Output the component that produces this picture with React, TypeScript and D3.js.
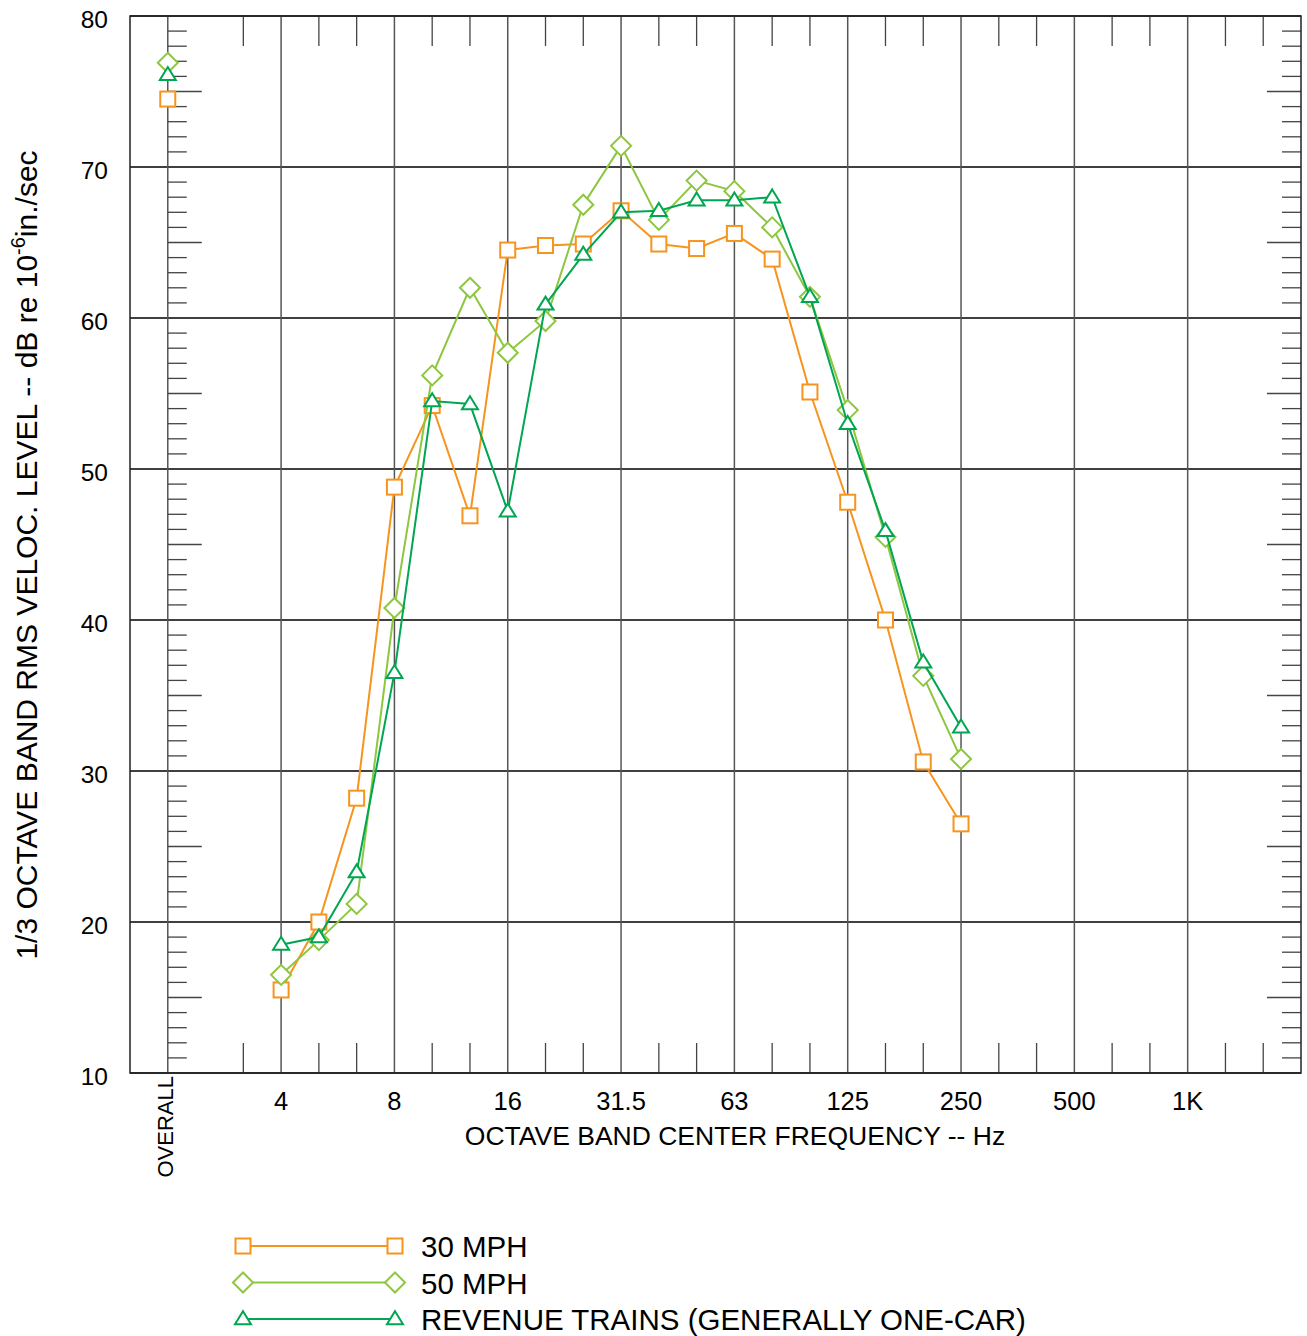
import React from "react";
import * as d3 from "d3";

const freqLabels = ["4", "8", "16", "31.5", "63", "125", "250", "500", "1K"];
const bandIndex = [3, 4, 5, 6, 7, 8, 9, 10, 11, 12, 13, 14, 15, 16, 17, 18, 19, 20, 21];
const yTicks = [10, 20, 30, 40, 50, 60, 70, 80];

const overall30 = 74.5;
const overall50 = 76.9;
const overallRev = 76.1;
const mph30 = [15.5, 20.0, 28.2, 48.8, 54.2, 46.9, 64.5, 64.8, 64.9, 67.1, 64.9, 64.6, 65.6, 63.9, 55.1, 47.8, 40.0, 30.6, 26.5];
const mph50 = [16.5, 18.8, 21.2, 40.8, 56.2, 62.0, 57.7, 59.8, 67.5, 71.4, 66.5, 69.1, 68.4, 66.0, 61.4, 53.9, 45.5, 36.3, 30.8];
const revenue = [18.5, 19.0, 23.3, 36.5, 54.5, 54.3, 47.2, 60.9, 64.2, 67.0, 67.1, 67.8, 67.8, 68.0, 61.4, 53.0, 45.9, 37.2, 32.9];

const ORANGE = "#F7941D";
const LGREEN = "#8DC63F";
const DGREEN = "#00A651";

const series = [
  { name: "30 MPH", overall: overall30, values: mph30, color: ORANGE, marker: "square" },
  { name: "50 MPH", overall: overall50, values: mph50, color: LGREEN, marker: "diamond" },
  { name: "REVENUE TRAINS (GENERALLY ONE-CAR)", overall: overallRev, values: revenue, color: DGREEN, marker: "triangle" },
];

const L = 130, R = 1301, T = 16, B = 1073;
const x = d3.scaleLinear().domain([-1, 30]).range([L, R]);
const y = d3.scaleLinear().domain([10, 80]).range([B, T]);

function Marker({ type, cx, cy, color }: { type: string; cx: number; cy: number; color: string }) {
  if (type === "square") {
    return <rect x={cx - 7.5} y={cy - 7.5} width={15} height={15} fill="white" stroke={color} strokeWidth={2} />;
  }
  if (type === "diamond") {
    const r = 10;
    return <path d={`M${cx},${cy - r}L${cx + r},${cy}L${cx},${cy + r}L${cx - r},${cy}Z`} fill="white" stroke={color} strokeWidth={2} />;
  }
  const w = 8, h = 13;
  return <path d={`M${cx},${cy - h * 0.6}L${cx + w},${cy + h * 0.4}L${cx - w},${cy + h * 0.4}Z`} fill="white" stroke={color} strokeWidth={2} />;
}

export default function App() {
  const gridIdx = [0, 3, 6, 9, 12, 15, 18, 21, 24, 27];
  const minorIdx = d3.range(2, 30).filter((i) => i % 3 !== 0);
  const minorY = d3.range(11, 80).filter((v) => v % 10 !== 0);
  const line = d3.line<[number, number]>().x((d) => x(d[0])).y((d) => y(d[1]));
  const font = "'Liberation Sans', Arial, sans-serif";
  return (
    <svg width={1307} height={1336} style={{ position: "absolute", left: 0, top: 0 }} fontFamily={font}>
      <rect width={1307} height={1336} fill="white" />
      {yTicks.map((v) => (
        <line key={"h" + v} x1={L} x2={R} y1={y(v)} y2={y(v)} stroke="#000" strokeWidth={1.3} />
      ))}
      {gridIdx.map((i) => (
        <line key={"v" + i} x1={x(i)} x2={x(i)} y1={T} y2={B} stroke="#555" strokeWidth={1.5} />
      ))}
      {minorIdx.map((i) => (
        <g key={"m" + i}>
          <line x1={x(i)} x2={x(i)} y1={T} y2={T + 30} stroke="#444" strokeWidth={1.3} />
          <line x1={x(i)} x2={x(i)} y1={B - 30} y2={B} stroke="#444" strokeWidth={1.3} />
        </g>
      ))}
      {minorY.map((v) => {
        const len = v % 5 === 0 ? 34 : 19;
        return (
          <g key={"y" + v}>
            <line x1={x(0)} x2={x(0) + len} y1={y(v)} y2={y(v)} stroke="#444" strokeWidth={1.3} />
            <line x1={R - len} x2={R} y1={y(v)} y2={y(v)} stroke="#444" strokeWidth={1.3} />
          </g>
        );
      })}
      <rect x={L} y={T} width={R - L} height={B - T} fill="none" stroke="#222" strokeWidth={1.5} />
      {yTicks.map((v) => (
        <text key={"yl" + v} x={108} y={y(v) + 12} textAnchor="end" fontSize={24.5}>{v}</text>
      ))}
      {freqLabels.map((lab, k) => (
        <text key={"xl" + lab} x={x(3 + 3 * k)} y={1110} textAnchor="middle" fontSize={25.5}>{lab}</text>
      ))}
      <text transform={`translate(173,1076) rotate(-90)`} textAnchor="end" fontSize={22}>OVERALL</text>
      <text x={735} y={1145} textAnchor="middle" fontSize={26.5}>OCTAVE BAND CENTER FREQUENCY -- Hz</text>
      <text transform="translate(37,555) rotate(-90)" textAnchor="middle" fontSize={30}>
        1/3 OCTAVE BAND RMS VELOC. LEVEL -- dB re 10<tspan dy={-12} fontSize={20}>-6</tspan><tspan dy={12}>in./sec</tspan>
      </text>
      {series.map((s) => {
        const pts: [number, number][] = s.values.map((v, i) => [bandIndex[i], v]);
        return (
          <g key={s.name}>
            <path d={line(pts) || ""} fill="none" stroke={s.color} strokeWidth={2} />
            {pts.map((p, i) => (
              <Marker key={i} type={s.marker} cx={x(p[0])} cy={y(p[1])} color={s.color} />
            ))}
            <Marker type={s.marker} cx={x(0)} cy={y(s.overall)} color={s.color} />
          </g>
        );
      })}
      {series.map((s, k) => {
        const ly = 1246 + k * 36.5;
        return (
          <g key={"lg" + k}>
            <line x1={243} x2={395} y1={ly} y2={ly} stroke={s.color} strokeWidth={2} />
            <Marker type={s.marker} cx={243} cy={ly} color={s.color} />
            <Marker type={s.marker} cx={395} cy={ly} color={s.color} />
            <text x={421} y={ly + 11} fontSize={29.5}>{s.name}</text>
          </g>
        );
      })}
    </svg>
  );
}
